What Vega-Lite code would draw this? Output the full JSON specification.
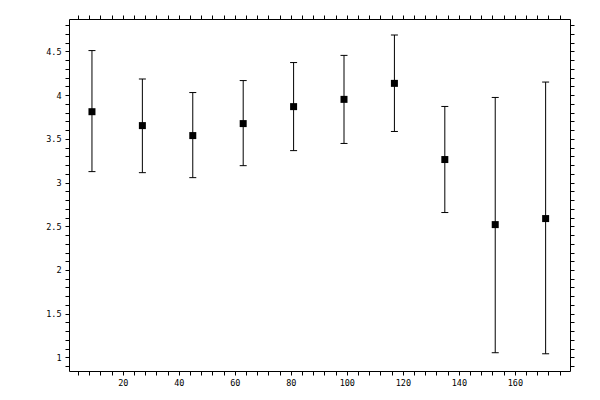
{
  "$schema": "https://vega.github.io/schema/vega-lite/v6.json",
  "width": 501,
  "height": 352,
  "autosize": {"type": "none"},
  "padding": {"left": 69, "top": 19, "right": 30, "bottom": 29},
  "background": "white",
  "config": {
    "view": {"stroke": null},
    "axis": {
      "domainColor": "black",
      "domainWidth": 1,
      "tickColor": "black",
      "tickWidth": 1,
      "tickSize": 4,
      "labelColor": "black",
      "labelFont": "DejaVu Sans Mono",
      "labelFontSize": 8.5,
      "labelOverlap": false,
      "labelFlush": false,
      "labelBound": false,
      "grid": false,
      "title": null
    }
  },
  "data": {
    "values": [
      {"x": 9, "mean": 3.81, "lower": 3.125, "upper": 4.509},
      {"x": 27, "mean": 3.651, "lower": 3.113, "upper": 4.184},
      {"x": 45, "mean": 3.537, "lower": 3.056, "upper": 4.029},
      {"x": 63, "mean": 3.674, "lower": 3.193, "upper": 4.166},
      {"x": 81, "mean": 3.868, "lower": 3.365, "upper": 4.372},
      {"x": 99, "mean": 3.951, "lower": 3.447, "upper": 4.454},
      {"x": 117, "mean": 4.134, "lower": 3.584, "upper": 4.687},
      {"x": 135, "mean": 3.263, "lower": 2.657, "upper": 3.87},
      {"x": 153, "mean": 2.519, "lower": 1.054, "upper": 3.973},
      {"x": 171, "mean": 2.588, "lower": 1.042, "upper": 4.149}
    ]
  },
  "resolve": {"axis": {"x": "independent", "y": "independent"}},
  "layer": [
    {
      "mark": {"type": "rule", "color": "black", "strokeWidth": 1},
      "encoding": {
        "x": {
          "field": "x", "type": "quantitative",
          "scale": {"domain": [0.8, 179.7], "nice": false, "zero": false},
          "axis": {
            "orient": "bottom",
            "values": [4,8,12,16,20,24,28,32,36,40,44,48,52,56,60,64,68,72,76,80,84,88,92,96,100,104,108,112,116,120,124,128,132,136,140,144,148,152,156,160,164,168,172,176],
            "labelExpr": "datum.value % 20 === 0 ? datum.label : ''",
            "labelPadding": 3,
            "encode": {"ticks": {"update": {
              "y": {"signal": "datum.value % 20 === 0 ? -4 : 0"},
              "y2": {"signal": "datum.value % 20 === 0 ? 4 : 3"}
            }}}
          }
        },
        "y": {
          "field": "lower", "type": "quantitative",
          "scale": {"domain": [0.845, 4.87], "nice": false, "zero": false},
          "axis": {
            "orient": "left",
            "values": [0.9,1,1.1,1.2,1.3,1.4,1.5,1.6,1.7,1.8,1.9,2,2.1,2.2,2.3,2.4,2.5,2.6,2.7,2.8,2.9,3,3.1,3.2,3.3,3.4,3.5,3.6,3.7,3.8,3.9,4,4.1,4.2,4.3,4.4,4.5,4.6,4.7,4.8],
            "labelExpr": "round(datum.value*10) % 5 === 0 ? format(datum.value, '~g') : ''",
            "labelPadding": 4,
            "encode": {"ticks": {"update": {
              "x": {"signal": "round(datum.value*10) % 5 === 0 ? 4 : 0"},
              "x2": {"signal": "round(datum.value*10) % 5 === 0 ? -4 : -3"}
            }}}
          }
        },
        "y2": {"field": "upper"}
      }
    },
    {
      "mark": {"type": "point", "shape": "square", "filled": true, "size": 49, "color": "black", "opacity": 1},
      "encoding": {
        "x": {
          "field": "x", "type": "quantitative",
          "scale": {"domain": [0.8, 179.7], "nice": false, "zero": false},
          "axis": {
            "orient": "top",
            "labels": false,
            "values": [4,8,12,16,20,24,28,32,36,40,44,48,52,56,60,64,68,72,76,80,84,88,92,96,100,104,108,112,116,120,124,128,132,136,140,144,148,152,156,160,164,168,172,176],
            "encode": {"ticks": {"update": {
              "y": {"signal": "datum.value % 20 === 0 ? 4 : 0"},
              "y2": {"signal": "datum.value % 20 === 0 ? -4 : -3"}
            }}}
          }
        },
        "y": {
          "field": "mean", "type": "quantitative",
          "scale": {"domain": [0.845, 4.87], "nice": false, "zero": false},
          "axis": {
            "orient": "right",
            "labels": false,
            "values": [0.9,1,1.1,1.2,1.3,1.4,1.5,1.6,1.7,1.8,1.9,2,2.1,2.2,2.3,2.4,2.5,2.6,2.7,2.8,2.9,3,3.1,3.2,3.3,3.4,3.5,3.6,3.7,3.8,3.9,4,4.1,4.2,4.3,4.4,4.5,4.6,4.7,4.8],
            "encode": {"ticks": {"update": {
              "x": {"signal": "round(datum.value*10) % 5 === 0 ? -4 : 0"},
              "x2": {"signal": "round(datum.value*10) % 5 === 0 ? 4 : 3"}
            }}}
          }
        }
      }
    },
    {
      "mark": {"type": "tick", "orient": "horizontal", "size": 7, "thickness": 1, "color": "black", "opacity": 1},
      "encoding": {
        "x": {"field": "x", "type": "quantitative", "scale": {"domain": [0.8, 179.7], "nice": false, "zero": false}, "axis": null},
        "y": {"field": "lower", "type": "quantitative", "scale": {"domain": [0.845, 4.87], "nice": false, "zero": false}, "axis": null}
      }
    },
    {
      "mark": {"type": "tick", "orient": "horizontal", "size": 7, "thickness": 1, "color": "black", "opacity": 1},
      "encoding": {
        "x": {"field": "x", "type": "quantitative", "scale": {"domain": [0.8, 179.7], "nice": false, "zero": false}, "axis": null},
        "y": {"field": "upper", "type": "quantitative", "scale": {"domain": [0.845, 4.87], "nice": false, "zero": false}, "axis": null}
      }
    }
  ]
}
